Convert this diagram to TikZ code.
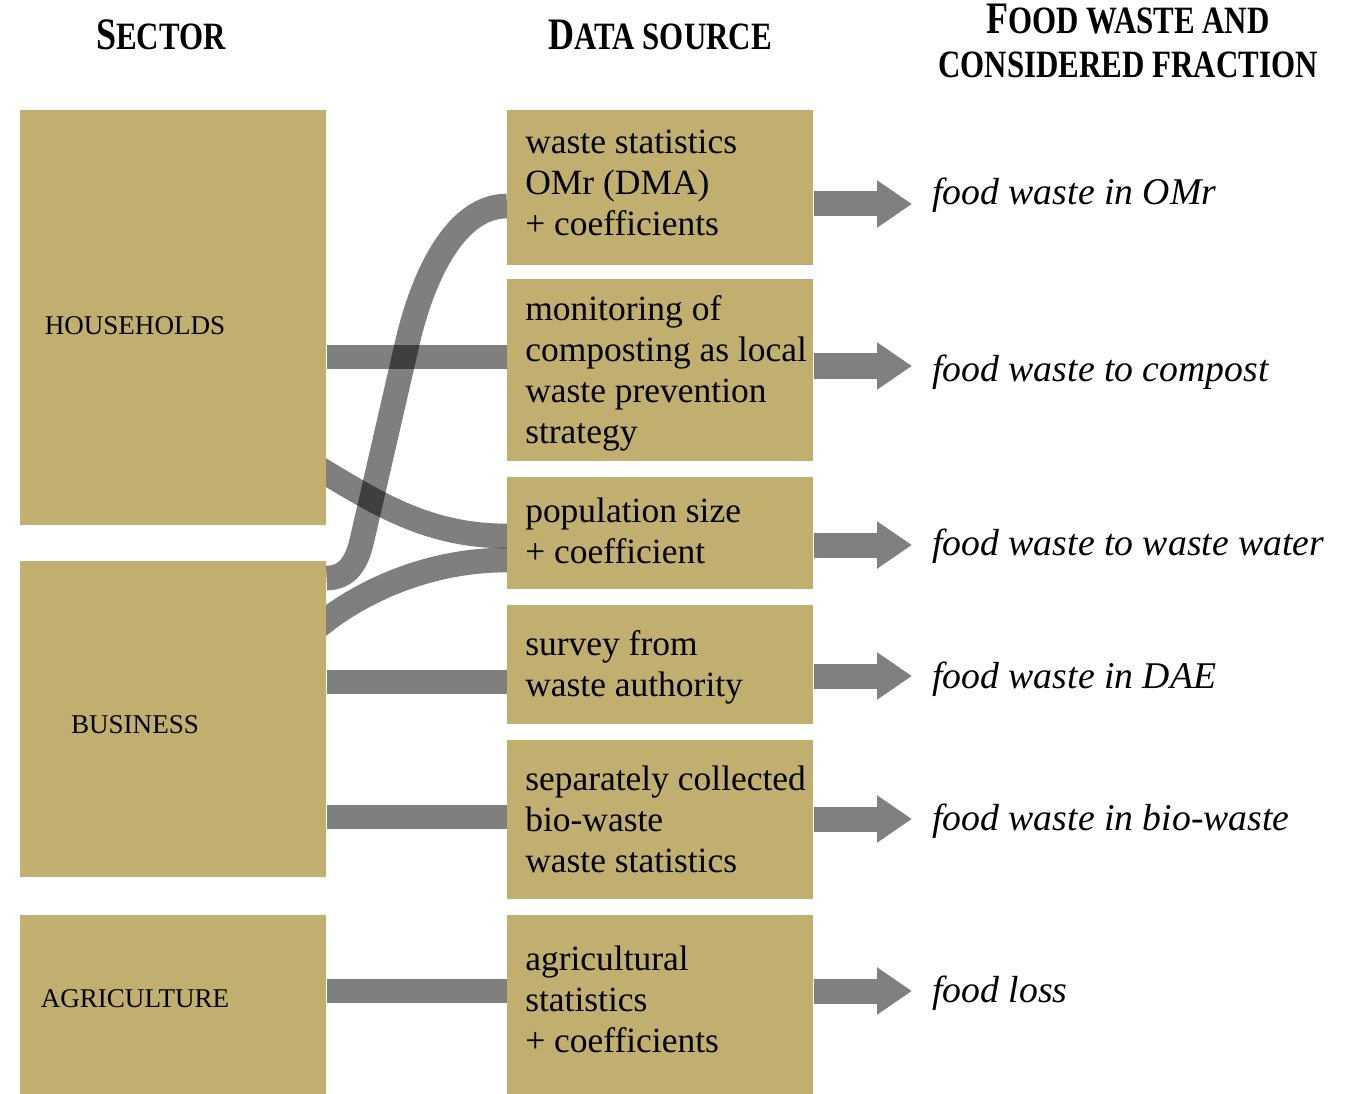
\documentclass[tikz,border=0pt]{standalone}
\usepackage{fontspec}
\setmainfont{Liberation Serif}
\usepackage{graphicx}
\usetikzlibrary{arrows.meta,backgrounds}
\definecolor{boxtan}{RGB}{192,175,110}
\definecolor{flowgray}{RGB}{128,128,128}
\newcommand\capsc[2]{{\fontsize{33.75}{36}\selectfont #1}{\fontsize{29}{32}\selectfont #2}}
\begin{document}
\begin{tikzpicture}[x=0.75pt,y=-0.75pt,
  sbox/.style={fill=boxtan, draw=none, inner sep=0, minimum width=229.5pt, anchor=north west},
  sectorlab/.style={anchor=base, inner sep=0, font=\fontsize{20.3}{24}\selectfont},
  dstext/.style={anchor=west, inner sep=0, align=left, font=\fontsize{26.6}{30.75}\selectfont},
  fraclab/.style={anchor=base west, inner sep=0, font=\fontsize{28.3}{34}\selectfont\itshape},
  hdr/.style={anchor=base, inner sep=0, font=\bfseries},
  flow/.style={line width=18.5pt, draw=black, draw opacity=0.5},
  outarrow/.style={draw=flowgray, line width=18.75pt, -{Triangle[length=26.25pt,width=33.75pt]}, shorten >=15pt},
]
\useasboundingbox (0,0) rectangle (1358,1094);

% headers
\node[hdr] (h1) at (161,50) {\scalebox{0.8}[1]{\capsc{S}{ECTOR}}};
\node[hdr] (h2) at (660,50) {\scalebox{0.8}[1]{\capsc{D}{ATA SOURCE}}};
\node[hdr] (h3a) at (1128,34) {\scalebox{0.8}[1]{\capsc{F}{OOD WASTE AND}}};
\node[hdr] (h3b) at (1128,78) {\scalebox{0.8}[1]{\capsc{}{CONSIDERED FRACTION}}};

% sector boxes
\node[sbox, minimum height=311.25pt] (hh) at (20,110) {};
\node[sbox, minimum height=237pt] (bu) at (20,561) {};
\node[sbox, minimum height=134.25pt] (ag) at (20,915) {};
\node[sectorlab] (hhl) at (135,335) {HOUSEHOLDS};
\node[sectorlab] (bul) at (135,733) {BUSINESS};
\node[sectorlab] (agl) at (135,1007) {AGRICULTURE};

% data source boxes
\node[sbox, minimum height=116.25pt] (d1) at (507,110) {};
\node[sbox, minimum height=136.5pt] (d2) at (507,279) {};
\node[sbox, minimum height=84pt] (d3) at (507,477) {};
\node[sbox, minimum height=89.25pt] (d4) at (507,605) {};
\node[sbox, minimum height=119.25pt] (d5) at (507,740) {};
\node[sbox, minimum height=134.25pt] (d6) at (507,915) {};

\node[dstext] (t1) at (525,182.5) {waste statistics\\OMr (DMA)\\+ coefficients};
\node[dstext] (t2) at (525,373.5) {monitoring of\\composting as local\\waste prevention\\strategy};
\node[dstext] (t3) at (525,530.5) {population size\\+ coefficient};
\node[dstext] (t4) at (525,667.5) {survey from\\waste authority};
\node[dstext] (t5) at (525,819) {separately collected\\bio-waste\\waste statistics};
\node[dstext] (t6) at (525,999) {agricultural\\statistics\\+ coefficients};

% fraction labels
\node[fraclab] (f1) at (932,205) {food waste in OMr};
\node[fraclab] (f2) at (932,382) {food waste to compost};
\node[fraclab] (f3) at (932,555) {food waste to waste water};
\node[fraclab] (f4) at (932,688) {food waste in DAE};
\node[fraclab] (f5) at (932,830) {food waste in bio-waste};
\node[fraclab] (f6) at (932,1002) {food loss};

% flows (behind the boxes)
\begin{scope}[on background layer]
\draw[flow] (hh.east |- 0,357) -- (d2.west |- 0,357);
\draw[flow] (bu.east |- 0,682) -- (d4.west |- 0,682);
\draw[flow] (bu.east |- 0,817) -- (d5.west |- 0,817);
\draw[flow] (ag.east |- 0,991) -- (d6.west |- 0,991);
\draw[flow] (bu.east |- 0,578) .. controls (348,578) and (357,562) .. (362,540)
   -- (408,340) .. controls (421,285) and (452,206) .. (d1.west |- 0,206);
\draw[flow] (hh.east |- 0,473) ++(-26,-16) -- ++(26,16) .. controls (380,505) and (430,536) .. (d3.west |- 0,536);
\draw[flow] (bu.east |- 0,620) ++(-20,15) -- ++(20,-15) .. controls (355,598) and (420,560) .. (d3.west |- 0,560);
\end{scope}

% output arrows
\draw[outarrow] (d1.east |- 0,204) -- (f1.west |- 0,204);
\draw[outarrow] (d2.east |- 0,366) -- (f2.west |- 0,366);
\draw[outarrow] (d3.east |- 0,545) -- (f3.west |- 0,545);
\draw[outarrow] (d4.east |- 0,676) -- (f4.west |- 0,676);
\draw[outarrow] (d5.east |- 0,819) -- (f5.west |- 0,819);
\draw[outarrow] (d6.east |- 0,991) -- (f6.west |- 0,991);
\end{tikzpicture}
\end{document}
